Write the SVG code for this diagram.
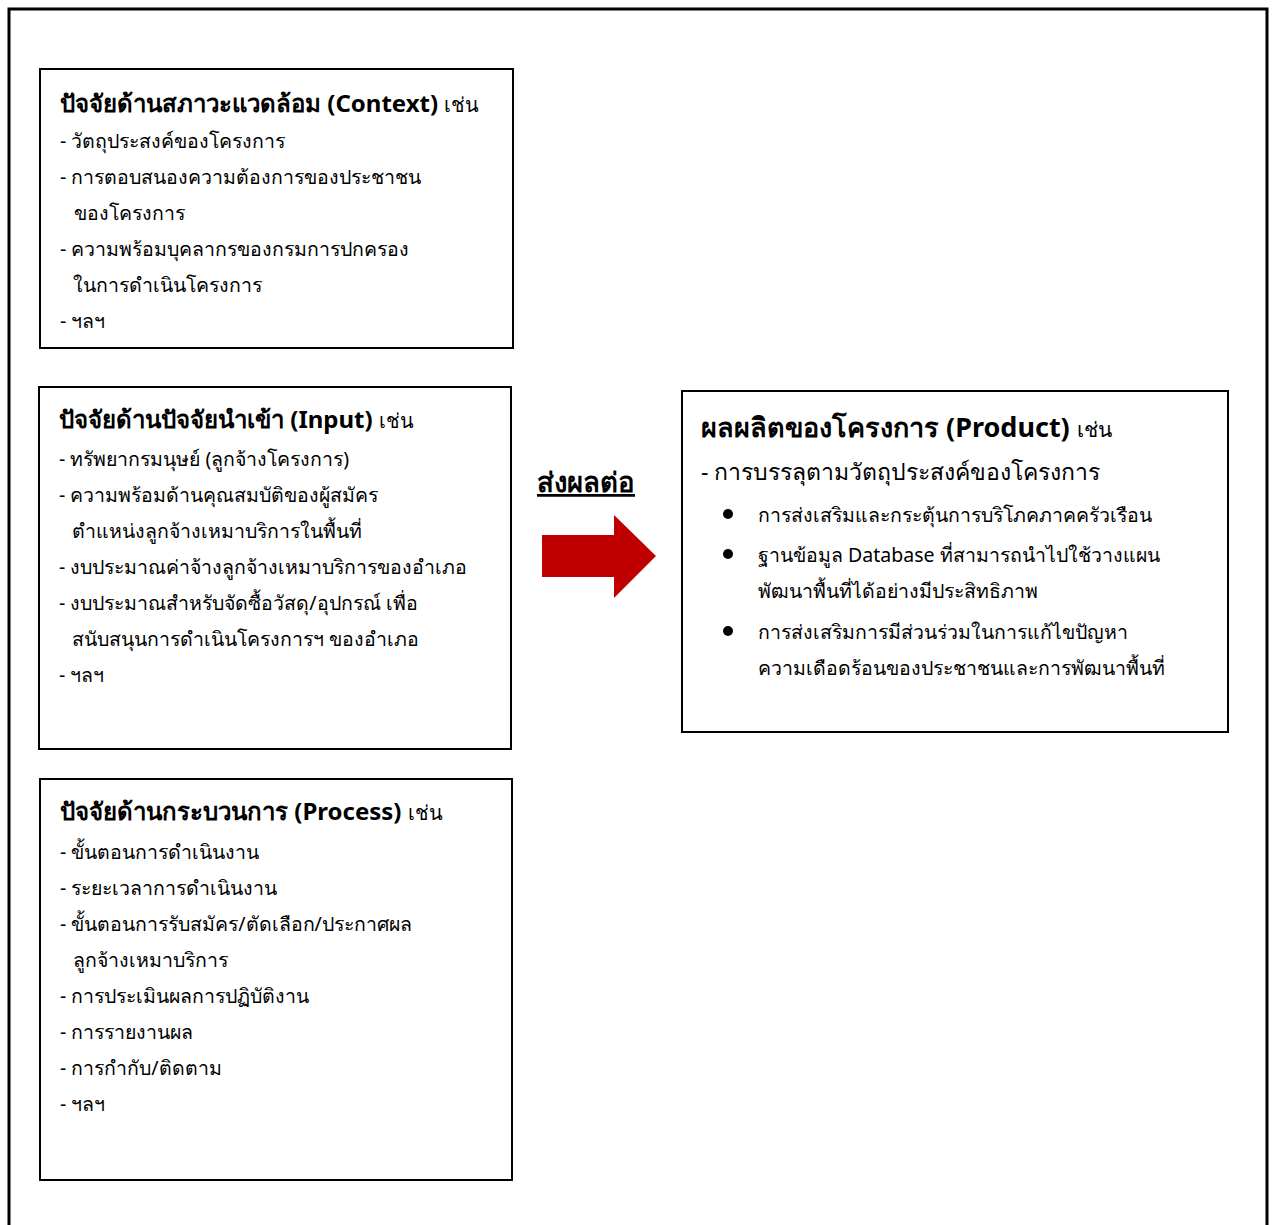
<svg xmlns="http://www.w3.org/2000/svg" width="1274" height="1225" viewBox="0 0 1274 1225">
<style>
text{font-family:"Noto Sans","DejaVu Sans",sans-serif;fill:#000}
.t{font-size:24px;font-weight:bold}
.s{font-size:20px;font-weight:normal}
.b{font-size:19.5px}
.box{fill:#fff;stroke:#000;stroke-width:2}
</style>
<rect width="1274" height="1225" fill="#fff"/>
<rect x="9" y="9" width="1258" height="1240" fill="none" stroke="#000" stroke-width="3"/>
<g id="context">
<rect class="box" x="40" y="69" width="473" height="279"/>
<text x="60" y="112" class="t">ปัจจัยด้านสภาวะแวดล้อม (Context) <tspan class="s">เช่น</tspan></text>
<text class="b" x="60" y="148">- วัตถุประสงค์ของโครงการ</text>
<text class="b" x="60" y="184">- การตอบสนองความต้องการของประชาชน</text>
<text class="b" x="74" y="220">ของโครงการ</text>
<text class="b" x="60" y="256">- ความพร้อมบุคลากรของกรมการปกครอง</text>
<text class="b" x="73" y="292">ในการดำเนินโครงการ</text>
<text class="b" x="60" y="328">- ฯลฯ</text>
</g>
<g id="input">
<rect class="box" x="39" y="387" width="472" height="362"/>
<text x="59" y="428" class="t">ปัจจัยด้านปัจจัยนำเข้า (Input) <tspan class="s">เช่น</tspan></text>
<text class="b" x="59" y="466">- ทรัพยากรมนุษย์ (ลูกจ้างโครงการ)</text>
<text class="b" x="59" y="502">- ความพร้อมด้านคุณสมบัติของผู้สมัคร</text>
<text class="b" x="72" y="538">ตำแหน่งลูกจ้างเหมาบริการในพื้นที่</text>
<text class="b" x="59" y="574">- งบประมาณค่าจ้างลูกจ้างเหมาบริการของอำเภอ</text>
<text class="b" x="59" y="610">- งบประมาณสำหรับจัดซื้อวัสดุ/อุปกรณ์ เพื่อ</text>
<text class="b" x="72" y="646">สนับสนุนการดำเนินโครงการฯ ของอำเภอ</text>
<text class="b" x="59" y="682">- ฯลฯ</text>
</g>
<g id="process">
<rect class="box" x="40" y="779" width="472" height="401"/>
<text x="60" y="820" class="t">ปัจจัยด้านกระบวนการ (Process) <tspan class="s">เช่น</tspan></text>
<text class="b" x="60" y="859">- ขั้นตอนการดำเนินงาน</text>
<text class="b" x="60" y="895">- ระยะเวลาการดำเนินงาน</text>
<text class="b" x="60" y="931">- ขั้นตอนการรับสมัคร/ตัดเลือก/ประกาศผล</text>
<text class="b" x="73" y="967">ลูกจ้างเหมาบริการ</text>
<text class="b" x="60" y="1003">- การประเมินผลการปฏิบัติงาน</text>
<text class="b" x="60" y="1039">- การรายงานผล</text>
<text class="b" x="60" y="1075">- การกำกับ/ติดตาม</text>
<text class="b" x="60" y="1111">- ฯลฯ</text>
</g>
<g id="product">
<rect class="box" x="682" y="391" width="546" height="341"/>
<text x="701" y="437" style="font-size:27px;font-weight:bold">ผลผลิตของโครงการ (Product) <tspan style="font-size:21px;font-weight:normal">เช่น</tspan></text>
<text x="701" y="480" style="font-size:23px">- การบรรลุตามวัตถุประสงค์ของโครงการ</text>
<circle cx="728" cy="514" r="5"/>
<circle cx="728" cy="554" r="5"/>
<circle cx="728" cy="631" r="5"/>
<text class="b" x="758" y="522">การส่งเสริมและกระตุ้นการบริโภคภาคครัวเรือน</text>
<text class="b" x="758" y="562">ฐานข้อมูล Database ที่สามารถนำไปใช้วางแผน</text>
<text class="b" x="758" y="598">พัฒนาพื้นที่ได้อย่างมีประสิทธิภาพ</text>
<text class="b" x="758" y="639">การส่งเสริมการมีส่วนร่วมในการแก้ไขปัญหา</text>
<text class="b" x="758" y="675">ความเดือดร้อนของประชาชนและการพัฒนาพื้นที่</text>
</g>
<g id="connectors">
<text x="537" y="492" style="font-size:27.5px;font-weight:bold;text-decoration:underline">ส่งผลต่อ</text>
<polygon points="542,535 614,535 614,515 656,556 614,598 614,577 542,577" fill="#c00000"/>
</g>
</svg>
